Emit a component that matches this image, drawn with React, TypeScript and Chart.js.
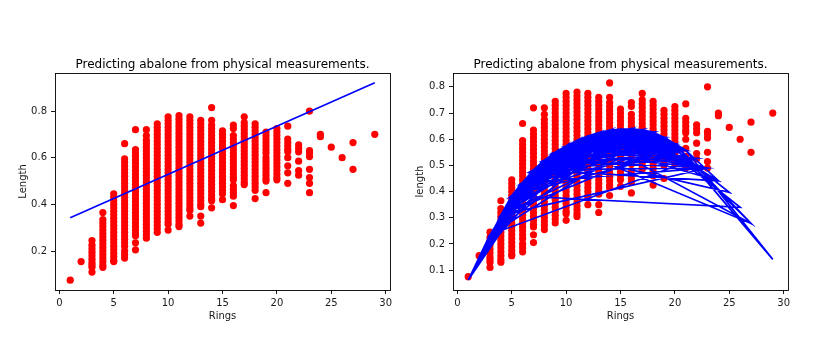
import React, { useEffect, useRef } from 'react';
import { Chart, registerables } from 'chart.js';

Chart.register(...registerables);

const FONT = 'DejaVu Sans';
const TITLE = 'Predicting abalone from physical measurements.';

// ---- scatter data: length values observed for each ring count ----
const len_r1 = [0.075];
const len_r2 = [0.155];
const len_r3 = [0.245, 0.225, 0.21, 0.195, 0.18, 0.165, 0.15, 0.14, 0.13, 0.11];
const len_r4 = [0.365, 0.335, 0.32, 0.305, 0.29, 0.275, 0.26, 0.245, 0.23, 0.215, 0.2, 0.185, 0.17, 0.155, 0.14, 0.13];
const len_r5 = [0.445, 0.43, 0.415, 0.4, 0.385, 0.37, 0.355, 0.34, 0.325, 0.31, 0.295, 0.28, 0.265, 0.25, 0.235, 0.22, 0.205, 0.19, 0.175, 0.16, 0.155];
const len_r6 = [0.66, 0.595, 0.58, 0.565, 0.55, 0.535, 0.52, 0.505, 0.49, 0.475, 0.46, 0.445, 0.43, 0.415, 0.4, 0.385, 0.37, 0.355, 0.34, 0.325, 0.31, 0.295, 0.28, 0.265, 0.25, 0.235, 0.22, 0.2, 0.185, 0.17];
const len_r7 = [0.72, 0.635, 0.62, 0.605, 0.59, 0.575, 0.56, 0.545, 0.53, 0.515, 0.5, 0.485, 0.47, 0.455, 0.44, 0.425, 0.41, 0.395, 0.38, 0.365, 0.35, 0.335, 0.32, 0.305, 0.29, 0.275, 0.265, 0.235, 0.205];
const len_r8 = [0.72, 0.695, 0.675, 0.66, 0.645, 0.63, 0.615, 0.6, 0.585, 0.57, 0.555, 0.54, 0.525, 0.51, 0.495, 0.48, 0.465, 0.45, 0.435, 0.42, 0.405, 0.39, 0.375, 0.36, 0.345, 0.33, 0.315, 0.3, 0.285, 0.27, 0.255];
const len_r9 = [0.745, 0.73, 0.715, 0.7, 0.685, 0.67, 0.655, 0.64, 0.625, 0.61, 0.595, 0.58, 0.565, 0.55, 0.535, 0.52, 0.505, 0.49, 0.475, 0.46, 0.445, 0.43, 0.415, 0.4, 0.385, 0.37, 0.355, 0.34, 0.325, 0.31, 0.295, 0.28];
const len_r10 = [0.775, 0.76, 0.745, 0.73, 0.715, 0.7, 0.685, 0.67, 0.655, 0.64, 0.625, 0.61, 0.595, 0.58, 0.565, 0.55, 0.535, 0.52, 0.505, 0.49, 0.475, 0.46, 0.445, 0.43, 0.415, 0.4, 0.385, 0.37, 0.355, 0.34, 0.325, 0.315, 0.29];
const len_r11 = [0.78, 0.765, 0.75, 0.735, 0.72, 0.705, 0.69, 0.675, 0.66, 0.645, 0.63, 0.615, 0.6, 0.585, 0.57, 0.555, 0.54, 0.525, 0.51, 0.495, 0.48, 0.465, 0.45, 0.435, 0.42, 0.405, 0.39, 0.375, 0.36, 0.345, 0.33, 0.315, 0.305];
const len_r12 = [0.775, 0.76, 0.745, 0.73, 0.715, 0.7, 0.685, 0.67, 0.655, 0.64, 0.625, 0.61, 0.595, 0.58, 0.565, 0.55, 0.535, 0.52, 0.505, 0.49, 0.475, 0.46, 0.445, 0.43, 0.415, 0.4, 0.385, 0.375, 0.35];
const len_r13 = [0.76, 0.745, 0.73, 0.715, 0.7, 0.685, 0.67, 0.655, 0.64, 0.625, 0.61, 0.595, 0.58, 0.565, 0.55, 0.535, 0.52, 0.505, 0.49, 0.475, 0.46, 0.445, 0.43, 0.415, 0.4, 0.39, 0.35, 0.32];
const len_r14 = [0.815, 0.76, 0.74, 0.725, 0.71, 0.695, 0.68, 0.665, 0.65, 0.635, 0.62, 0.605, 0.59, 0.575, 0.56, 0.545, 0.53, 0.515, 0.5, 0.485, 0.47, 0.455, 0.44, 0.425, 0.415, 0.385];
const len_r15 = [0.715, 0.7, 0.685, 0.67, 0.655, 0.64, 0.625, 0.61, 0.595, 0.58, 0.565, 0.55, 0.535, 0.52, 0.505, 0.49, 0.475, 0.46, 0.445, 0.42];
const len_r16 = [0.74, 0.725, 0.695, 0.68, 0.665, 0.65, 0.635, 0.62, 0.605, 0.59, 0.575, 0.56, 0.545, 0.53, 0.515, 0.505, 0.48, 0.465, 0.45, 0.435, 0.395];
const len_r17 = [0.775, 0.75, 0.735, 0.72, 0.705, 0.69, 0.675, 0.66, 0.645, 0.63, 0.615, 0.6, 0.585, 0.57, 0.555, 0.54, 0.525, 0.51, 0.495, 0.485];
const len_r18 = [0.745, 0.73, 0.715, 0.7, 0.685, 0.67, 0.655, 0.64, 0.625, 0.61, 0.595, 0.58, 0.565, 0.55, 0.535, 0.52, 0.505, 0.49, 0.475, 0.46, 0.425];
const len_r19 = [0.71, 0.695, 0.68, 0.665, 0.65, 0.635, 0.62, 0.6, 0.585, 0.57, 0.555, 0.54, 0.525, 0.51, 0.5, 0.45];
const len_r20 = [0.725, 0.71, 0.695, 0.68, 0.665, 0.65, 0.635, 0.62, 0.605, 0.59, 0.575, 0.56, 0.545, 0.53, 0.515, 0.505];
const len_r21 = [0.735, 0.68, 0.665, 0.65, 0.635, 0.625, 0.6, 0.565, 0.535, 0.49];
const len_r22 = [0.655, 0.64, 0.625, 0.585, 0.545, 0.525];
const len_r23 = [0.8, 0.63, 0.62, 0.605, 0.55, 0.515, 0.49, 0.45];
const len_r24 = [0.7, 0.69];
const len_r25 = [0.645];
const len_r26 = [0.6];
const len_r27 = [0.665, 0.55];
const len_r29 = [0.7];

const ringsObserved = [1, 2, 3, 4, 5, 6, 7, 8, 9, 10, 11, 12, 13, 14, 15, 16, 17, 18, 19, 20, 21, 22, 23, 24, 25, 26, 27, 29];
const lengthColumns = [len_r1, len_r2, len_r3, len_r4, len_r5, len_r6, len_r7, len_r8, len_r9, len_r10, len_r11, len_r12, len_r13, len_r14, len_r15, len_r16, len_r17, len_r18, len_r19, len_r20, len_r21, len_r22, len_r23, len_r24, len_r25, len_r26, len_r27, len_r29];

// ---- left panel: linear regression line ----
const linearFitRings = [1, 29];
const linearFitLength = [0.343, 0.921];

// ---- right panel: polynomial prediction per ring (rings 1..29) ----
const polyRings = [1, 2, 3, 4, 5, 6, 7, 8, 9, 10, 11, 12, 13, 14, 15, 16, 17, 18, 19, 20, 21, 22, 23, 24, 25, 26, 27, 28, 29];
const polyPredicted = [0.062, 0.15, 0.235, 0.31, 0.385, 0.435, 0.483, 0.52, 0.55, 0.574, 0.595, 0.612, 0.625, 0.634, 0.639, 0.64, 0.636, 0.627, 0.607, 0.582, 0.558, 0.527, 0.49, 0.441, 0.397, 0.34, 0.278, 0.21, 0.141];

// rings of the samples in the order they were plotted (unsorted)
const plotOrderRings = [
  15, 7, 9, 10, 7, 8, 20, 16, 9, 19, 14, 10, 11, 10, 10, 12, 7, 10, 7, 9,
  11, 10, 12, 9, 10, 11, 11, 12, 15, 11, 10, 15, 18, 19, 13, 8, 16, 8, 11, 9,
  9, 14, 5, 5, 4, 7, 9, 7, 6, 9, 8, 7, 10, 10, 7, 8, 8, 4, 7, 7,
  12, 13, 10, 6, 13, 8, 20, 11, 13, 15, 9, 10, 11, 14, 9, 8, 11, 10, 9, 11,
  14, 12, 13, 9, 10, 7, 11, 5, 12, 7, 9, 6, 3, 18, 10, 8, 9, 11, 13, 6,
  8, 10, 17, 9, 12, 7, 4, 20, 9, 10, 8, 11, 16, 8, 9, 12, 10, 21, 29, 20,
  12, 9, 8, 13, 10, 6, 11, 9, 14, 8, 10, 7, 9, 22, 8, 5, 26, 17, 11, 10,
  9, 8, 12, 7, 10, 3, 1, 5, 9, 11, 8, 15, 10, 9, 6, 13, 10, 12, 8, 11,
  9, 10, 7, 14, 9, 8, 10, 16, 11, 9, 4, 19, 12, 10, 8, 6, 9, 11, 10, 13,
  8, 9, 7, 18, 25, 9, 10, 11, 8, 12, 10, 9, 17, 8, 7, 11, 10, 23, 6, 9,
  10, 8, 12, 11, 9, 14, 7, 10, 8, 19, 27, 12, 9, 11, 10, 8, 4, 1, 7, 10,
  9, 11, 13, 8, 10, 9, 3, 2, 9, 12, 8, 10, 6, 11, 15, 9, 8, 10, 21, 24,
  11, 9, 7, 12, 10, 8, 13, 9, 11, 5, 20, 8, 10, 9, 16, 24, 7, 11, 10, 9,
  8, 12, 9, 10, 14, 6, 8, 11, 9, 18, 10, 7, 9, 12, 8, 20, 27, 10, 11, 9,
  4, 17, 10, 8, 9, 13, 11, 10, 7, 9, 8, 12, 23, 9, 10, 6, 11, 8, 15, 9,
  10, 11, 8, 9, 3, 22, 10, 12, 9, 7, 8, 11, 10, 14, 9, 6, 10, 8, 19, 11,
  9, 10, 13, 7, 8, 12, 10, 9, 5, 16, 11, 8, 9, 10, 21, 7, 9, 11, 12, 8,
  10, 9, 6, 4, 23, 11, 10, 8, 9, 17, 12, 7, 10, 9, 8, 11, 13, 9, 10, 8,
  5, 6, 7, 8, 9, 10, 11, 12, 13, 14, 15, 16, 17, 18, 19, 20, 21,
  5, 7, 9, 11, 13, 15, 17, 19, 21, 6, 8, 10, 12, 14, 16, 18, 20,
  5, 8, 11, 14, 17, 20, 6, 9, 12, 15, 18, 21, 7, 10, 13, 16, 19,
  5, 9, 13, 17, 21, 8, 12, 16, 20, 7, 11, 15, 19, 6, 10, 14, 18,
  5, 10, 15, 20, 8, 13, 18, 6, 11, 16, 21, 9, 14, 19, 7, 12, 17,
  5, 11, 17, 6, 12, 18, 7, 13, 19, 8, 14, 20, 9, 15, 21, 10, 16,
  5, 12, 19, 9, 16, 6, 13, 20, 10, 17, 7, 14, 21, 11, 18, 8, 15,
  5, 13, 21, 12, 20, 11, 19, 10, 18, 9, 17, 8, 16, 7, 15, 6, 14, 5,
  1, 6, 2, 8, 1, 9, 3, 12, 2, 10, 4, 14, 3, 16, 4, 11, 22, 7, 23, 8,
];

// ---- axis ticks ----
const xTicks = [0, 5, 10, 15, 20, 25, 30];
const leftYTicks = [0.2, 0.4, 0.6, 0.8];
const rightYTicks = [0.1, 0.2, 0.3, 0.4, 0.5, 0.6, 0.7, 0.8];

function scatterPoints() {
  const pts: { x: number; y: number }[] = [];
  ringsObserved.forEach((r, i) => {
    lengthColumns[i].forEach((v) => pts.push({ x: r, y: v }));
  });
  return pts;
}

function linearLine() {
  return linearFitRings.map((r, i) => ({ x: r, y: linearFitLength[i] }));
}

function polyLine() {
  return plotOrderRings.map((r) => ({ x: r, y: polyPredicted[polyRings.indexOf(r)] }));
}

const boxAndTitle = {
  id: 'boxAndTitle',
  afterDraw(chart: any) {
    const { ctx, chartArea: a } = chart;
    ctx.save();
    ctx.strokeStyle = '#000';
    ctx.lineWidth = 0.9;
    ctx.strokeRect(Math.round(a.left) + 0.5, Math.round(a.top) + 0.5, Math.round(a.right - a.left), Math.round(a.bottom - a.top));
    ctx.font = `12px "${FONT}"`;
    ctx.fillStyle = '#000';
    ctx.textAlign = 'center';
    ctx.textBaseline = 'alphabetic';
    ctx.fillText(TITLE, (a.left + a.right) / 2, a.top - 5.5);
    ctx.restore();
  },
};

function makeConfig(opts: {
  line: { x: number; y: number }[];
  yMin: number;
  yMax: number;
  yTicks: number[];
  yTitle: string;
  yTitlePad: number;
  yAxisWidth: number;
  padRight: number;
}) {
  const tickFont = { family: FONT, size: 10 };
  return {
    type: 'scatter',
    data: {
      datasets: [
        {
          data: opts.line,
          showLine: true,
          borderColor: '#0000ff',
          borderWidth: 1.7,
          pointRadius: 0,
          tension: 0,
          fill: false,
          order: 0,
        },
        {
          data: scatterPoints(),
          showLine: false,
          backgroundColor: '#ff0000',
          borderWidth: 0,
          pointRadius: 3.6,
          order: 1,
        },
      ],
    },
    options: {
      responsive: false,
      animation: false,
      devicePixelRatio: 1,
      events: [],
      layout: { padding: { left: 0, top: 73, right: opts.padRight, bottom: 37 } },
      plugins: { legend: { display: false }, tooltip: { enabled: false }, title: { display: false } },
      scales: {
        x: {
          type: 'linear',
          min: -0.4,
          max: 30.4,
          afterBuildTicks: (s: any) => {
            s.ticks = xTicks.map((v) => ({ value: v }));
          },
          afterFit: (s: any) => {
            s.height = 32;
          },
          grid: { drawOnChartArea: false, drawTicks: true, tickLength: 4, color: '#000', lineWidth: 0.9 },
          border: { display: false },
          ticks: {
            padding: 3,
            color: '#1a1a1a',
            font: tickFont,
            maxRotation: 0,
            autoSkip: false,
            callback: (v: any) => String(v),
          },
          title: { display: true, text: 'Rings', color: '#1a1a1a', font: tickFont, padding: 0 },
        },
        y: {
          type: 'linear',
          min: opts.yMin,
          max: opts.yMax,
          afterBuildTicks: (s: any) => {
            s.ticks = opts.yTicks.map((v) => ({ value: v }));
          },
          afterFit: (s: any) => {
            s.width = opts.yAxisWidth;
          },
          grid: { drawOnChartArea: false, drawTicks: true, tickLength: 4, color: '#000', lineWidth: 0.9 },
          border: { display: false },
          ticks: {
            padding: 4,
            color: '#1a1a1a',
            font: tickFont,
            autoSkip: false,
            callback: (v: any) => Number(v).toFixed(1),
          },
          title: {
            display: true,
            text: opts.yTitle,
            color: '#1a1a1a',
            font: tickFont,
            padding: { top: opts.yTitlePad, bottom: 0 },
          },
        },
      },
    },
    plugins: [boxAndTitle],
  } as any;
}

export default function App() {
  const leftRef = useRef<HTMLCanvasElement>(null);
  const rightRef = useRef<HTMLCanvasElement>(null);

  useEffect(() => {
    const left = new Chart(
      leftRef.current as HTMLCanvasElement,
      makeConfig({
        line: linearLine(),
        yMin: 0.033,
        yMax: 0.963,
        yTicks: leftYTicks,
        yTitle: 'Length',
        yTitlePad: 17,
        yAxisWidth: 55,
        padRight: 20,
      })
    );
    const right = new Chart(
      rightRef.current as HTMLCanvasElement,
      makeConfig({
        line: polyLine(),
        yMin: 0.024,
        yMax: 0.853,
        yTicks: rightYTicks,
        yTitle: 'length',
        yTitlePad: 4,
        yAxisWidth: 43,
        padRight: 31,
      })
    );
    return () => {
      left.destroy();
      right.destroy();
    };
  }, []);

  return (
    <div style={{ position: 'absolute', left: 0, top: 0, width: 819, height: 359, background: '#fff' }}>
      <canvas ref={leftRef} width={410} height={359} style={{ position: 'absolute', left: 0, top: 0, width: 410, height: 359 }} />
      <canvas ref={rightRef} width={409} height={359} style={{ position: 'absolute', left: 410, top: 0, width: 409, height: 359 }} />
    </div>
  );
}
